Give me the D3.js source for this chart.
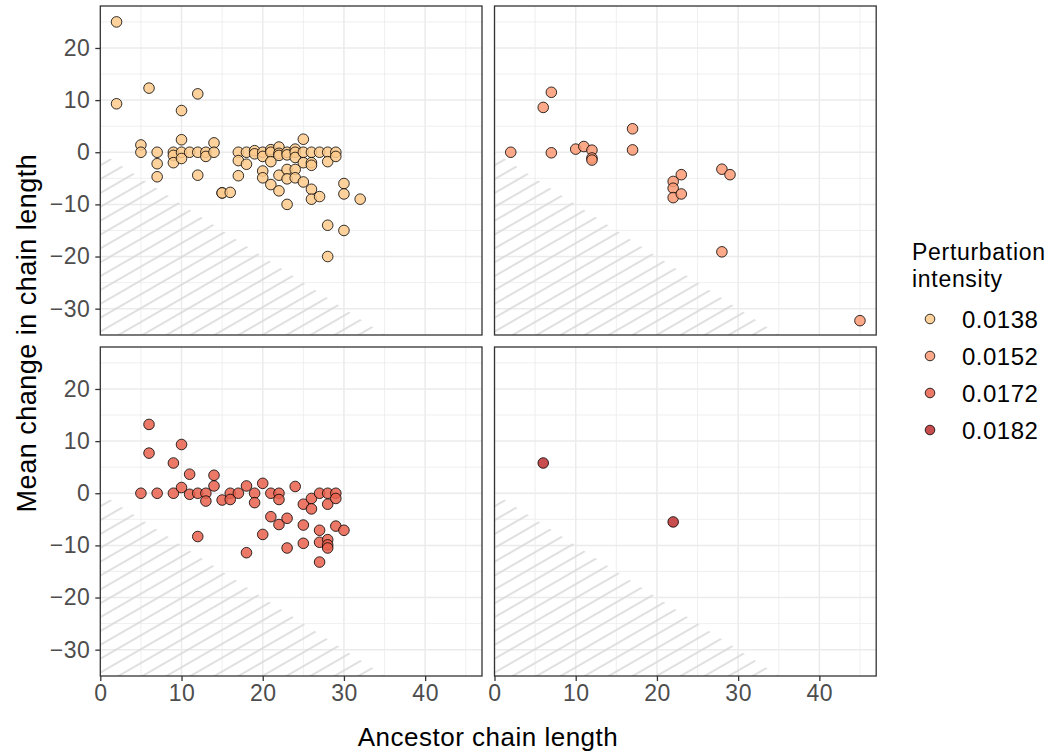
<!DOCTYPE html>
<html>
<head>
<meta charset="utf-8">
<script src="https://cdn.jsdelivr.net/npm/d3@7"></script>
<style>
    body { margin: 0; background: #fff; }
    text { font-family: Arial, "Liberation Sans", sans-serif; }
</style>
</head>
<body>
<svg id="chart" width="1056" height="754"></svg>
<script>
// facet values, one array per perturbation intensity: [ancestor length, mean change]
const intensities = ['0.0138', '0.0152', '0.0172', '0.0182'];
const fills = ['#fdca8c', '#fb9a74', '#e9604c', '#bd2e2f'];

const pts0138 = [
    [2, 25], [2, 9.3], [5, 1.4], [5, 0], [6, 12.3], [7, 0], [7, -2.2], [7, -4.7],
    [9, 0], [9, -0.6], [9, -2.0], [10, 8], [10, 2.4], [10, 0], [10, -1.2], [11, 0],
    [12, 11.2], [12, 0], [12, -4.4], [13, 0], [13, -0.8], [14, 1.8], [14, 0],
    [15, -7.8], [15, -7.8], [16, -7.7], [17, 0], [17, -1.6], [17, -4.5], [18, 0], [18, -2.3],
    [19, 0.3], [19, -0.3], [20, 0], [20, -0.8], [20, -3.6], [20, -4.9],
    [21, 0.5], [21, 0], [21, -1.8], [21, -6.2],
    [22, 1.0], [22, -0.2], [22, -0.6], [22, -4.4], [22, -7.4],
    [23, 0], [23, -0.5], [23, -3.3], [23, -5.1], [23, -10],
    [24, 0.6], [24, 0], [24, -1], [24, -3.3], [24, -4.9],
    [25, 2.5], [25, 0], [25, -2.0], [25, -5.7],
    [26, 0], [26, -2.0], [26, -2.5], [26, -7.1], [26, -9],
    [27, 0], [27, -8.5], [28, 0], [28, -1.8], [28, -14], [28, -20],
    [29, 0], [29, -0.8], [30, -6], [30, -8], [30, -15], [32, -9]
];
const pts0152 = [
    [2, 0], [6, 8.6], [7, 11.5], [7, -0.1], [10, 0.6], [11, 1.1], [12, 0.4], [12, -1.1], [12, -1.5],
    [17, 4.5], [17, 0.45], [22, -5.6], [22, -6.9], [22, -8.7], [23, -4.3], [23, -8.0],
    [28, -3.25], [29, -4.3], [28, -19.1], [45, -32.3]
];
const pts0172 = [
    [5, 0], [6, 13.2], [6, 7.7], [7, 0], [9, 5.8], [9, 0], [10, 9.35], [10, 1.1], [11, 3.65], [11, -0.2],
    [12, 0], [12, -8.3], [13, 0], [13, -1.5], [14, 3.45], [14, 1.4], [15, -1.3], [16, 0], [16, -1.2],
    [17, 0], [18, 1.4], [18, -11.4], [19, 0], [19, -1.8], [20, 1.9], [20, -7.9], [21, 0], [21, -4.5],
    [22, 0], [22, -1.2], [22, -6.0], [23, -4.8], [23, -10.5], [24, 1.3], [25, -2.1], [25, -6.1], [25, -9.6],
    [26, -1.0], [26, -3.0], [27, 0], [27, -7.1], [27, -9.4], [27, -13.2], [28, 0], [28, -2.1], [28, -8.9],
    [28, -9.9], [28, -10.5], [29, 0], [29, -1.0], [29, -6.3], [30, -7.1]
];
const pts0182 = [[6, 5.8], [22, -5.5]];

const xTicks = [0, 10, 20, 30, 40];
const yTicks = [-30, -20, -10, 0, 10, 20];
const xMinor = [5, 15, 25, 35, 45];
const yMinor = [-25, -15, -5, 5, 15, 25];
const boundary = [[0, 0], [35.05, -35.05], [0, -35.05]];

const PANEL = { width: 381.7, height: 329 },
    svg = d3.select('#chart');

const x = d3.scaleLinear().domain([0, 47]).range([0, PANEL.width]),
    y = d3.scaleLinear().domain([-35.05, 28.05]).range([PANEL.height, 0]);

const panels = [
    { data: pts0138, fill: fills[0], left: 100.3, top: 6, yAxis: true, xAxis: false },
    { data: pts0152, fill: fills[1], left: 494.5, top: 6, yAxis: false, xAxis: false },
    { data: pts0172, fill: fills[2], left: 100.3, top: 347, yAxis: true, xAxis: true },
    { data: pts0182, fill: fills[3], left: 494.5, top: 347, yAxis: false, xAxis: true }
];

// hatch pattern for the impossible region (change below -length)
const defs = svg.append('defs');
defs.append('pattern')
    .attr('id', 'hatch')
    .attr('patternUnits', 'userSpaceOnUse')
    .attr('width', 20)
    .attr('height', 12)
    .attr('patternTransform', 'rotate(-30)')
    .append('line')
    .attr('x1', 0).attr('x2', 20)
    .attr('y1', 6).attr('y2', 6)
    .attr('stroke', '#d9d9d9')
    .attr('stroke-width', 1.6);

panels.forEach((p, i) => {
    defs.append('clipPath').attr('id', 'clip' + i)
        .append('rect').attr('width', PANEL.width).attr('height', PANEL.height);

    const g = svg.append('g').attr('transform', `translate(${p.left},${p.top})`);
    const inner = g.append('g').attr('clip-path', `url(#clip${i})`);

    inner.append('rect')
        .attr('width', PANEL.width).attr('height', PANEL.height)
        .attr('fill', '#fff');

    inner.selectAll('.xminor').data(xMinor).enter().append('line')
        .attr('x1', d => x(d)).attr('x2', d => x(d))
        .attr('y1', 0).attr('y2', PANEL.height)
        .attr('stroke', '#ebebeb').attr('stroke-width', 0.8);
    inner.selectAll('.yminor').data(yMinor).enter().append('line')
        .attr('y1', d => y(d)).attr('y2', d => y(d))
        .attr('x1', 0).attr('x2', PANEL.width)
        .attr('stroke', '#ebebeb').attr('stroke-width', 0.8);
    inner.selectAll('.xmajor').data(xTicks).enter().append('line')
        .attr('x1', d => x(d)).attr('x2', d => x(d))
        .attr('y1', 0).attr('y2', PANEL.height)
        .attr('stroke', '#ebebeb').attr('stroke-width', 1.5);
    inner.selectAll('.ymajor').data(yTicks).enter().append('line')
        .attr('y1', d => y(d)).attr('y2', d => y(d))
        .attr('x1', 0).attr('x2', PANEL.width)
        .attr('stroke', '#ebebeb').attr('stroke-width', 1.5);

    inner.append('path')
        .datum(boundary)
        .attr('d', d3.line().x(d => x(d[0])).y(d => y(d[1])))
        .attr('fill', 'url(#hatch)');

    inner.selectAll('circle').data(p.data).enter().append('circle')
        .attr('cx', d => x(d[0]))
        .attr('cy', d => y(d[1]))
        .attr('r', 5.3)
        .attr('fill', p.fill)
        .attr('fill-opacity', 0.85)
        .attr('stroke', '#000')
        .attr('stroke-opacity', 0.8)
        .attr('stroke-width', 1);

    g.append('rect')
        .attr('width', PANEL.width).attr('height', PANEL.height)
        .attr('fill', 'none')
        .attr('stroke', '#333333')
        .attr('stroke-width', 1.3);

    if (p.yAxis) {
        const ax = g.append('g')
            .call(d3.axisLeft(y).tickValues(yTicks).tickSize(5).tickPadding(5));
        styleAxis(ax);
    }
    if (p.xAxis) {
        const ax = g.append('g')
            .attr('transform', `translate(0,${PANEL.height})`)
            .call(d3.axisBottom(x).tickValues(xTicks).tickSize(5).tickPadding(4));
        styleAxis(ax);
    }
});

function styleAxis(ax) {
    ax.select('.domain').remove();
    ax.selectAll('.tick line').attr('stroke', '#333333').attr('stroke-width', 1.3);
    ax.selectAll('.tick text')
        .attr('fill', '#4d4d4d')
        .style('font-size', '23px')
        .style('letter-spacing', '0.5px');
}

// axis titles
svg.append('text')
    .attr('x', 488).attr('y', 746)
    .attr('text-anchor', 'middle')
    .style('font-size', '26px')
    .style('letter-spacing', '0.5px')
    .text('Ancestor chain length');

svg.append('text')
    .attr('transform', 'translate(36,333) rotate(-90)')
    .attr('text-anchor', 'middle')
    .style('font-size', '27px')
    .style('letter-spacing', '0.5px')
    .text('Mean change in chain length');

// legend
const legend = svg.append('g').attr('transform', 'translate(912,0)');
legend.selectAll('.title').data(['Perturbation', 'intensity']).enter().append('text')
    .attr('x', 0)
    .attr('y', (d, i) => 260 + i * 27)
    .style('font-size', '23px')
    .style('letter-spacing', '0.7px')
    .text(d => d);

const keys = legend.selectAll('.key').data(intensities).enter().append('g')
    .attr('transform', (d, i) => `translate(0,${319 + i * 37})`);
keys.append('circle')
    .attr('cx', 18).attr('cy', 0).attr('r', 4.8)
    .attr('fill', (d, i) => fills[i])
    .attr('fill-opacity', 0.85)
    .attr('stroke', '#000')
    .attr('stroke-opacity', 0.8)
    .attr('stroke-width', 1);
keys.append('text')
    .attr('x', 50).attr('y', 9)
    .style('font-size', '24px')
    .style('letter-spacing', '0.5px')
    .text(d => d);
</script>
</body>
</html>
